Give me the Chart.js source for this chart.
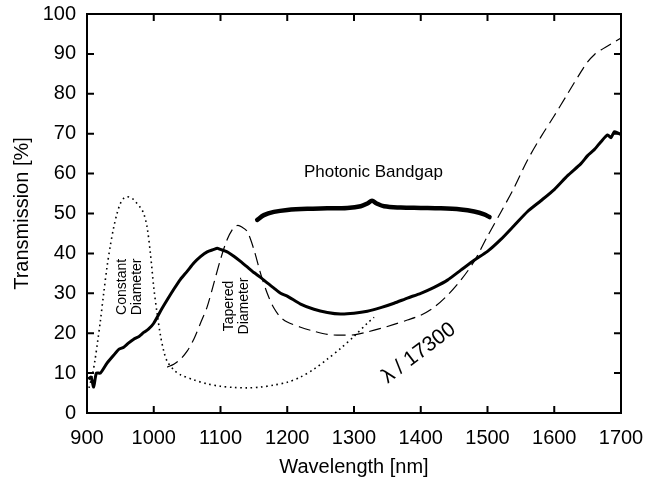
<!DOCTYPE html>
<html lang="en">
<head>
<meta charset="UTF-8">
<title>Transmission vs Wavelength</title>
<style>
  body { margin: 0; background: #ffffff; }
  canvas { display: block; }
</style>
<script src="https://cdn.jsdelivr.net/npm/chart.js"></script>
</head>
<body>
<canvas id="chart" width="646" height="485"></canvas>
<script>
// wavelength [nm] / transmission [%]
const solidWl = [902, 906, 910, 914, 920, 930, 940, 948, 955, 962, 970, 978, 985, 992, 1000, 1010, 1020, 1030, 1040, 1050, 1060, 1070, 1080, 1090, 1095, 1100, 1110, 1120, 1130, 1140, 1150, 1160, 1170, 1180, 1190, 1200, 1220, 1240, 1260, 1280, 1300, 1320, 1340, 1360, 1380, 1400, 1420, 1440, 1460, 1480, 1500, 1520, 1540, 1560, 1580, 1600, 1620, 1640, 1650, 1660, 1670, 1680, 1685, 1690, 1695, 1700];
const solidT = [8.5, 9, 6.5, 10, 10, 12.5, 14.5, 16, 16.5, 17.5, 18.5, 19.2, 20.2, 21, 22.5, 25.5, 28.3, 31, 33.5, 35.5, 37.6, 39.2, 40.4, 41, 41.3, 41, 40.4, 39.3, 38, 36.6, 35.2, 34, 32.6, 31.3, 30, 29.3, 27.3, 26, 25.2, 24.8, 25, 25.5, 26.4, 27.5, 28.8, 30, 31.5, 33.3, 35.8, 38.3, 40.5, 43.5, 47, 50.5, 53.2, 56, 59.5, 62.5, 64.5, 66, 68, 69.7, 69, 70.5, 70.2, 69.8];

const taperWl = [1020, 1030, 1040, 1050, 1060, 1070, 1080, 1090, 1100, 1110, 1120, 1126, 1132, 1140, 1150, 1160, 1170, 1180, 1190, 1200, 1220, 1240, 1260, 1280, 1300, 1320, 1340, 1360, 1380, 1400, 1420, 1440, 1460, 1480, 1500, 1520, 1540, 1560, 1580, 1600, 1620, 1640, 1650, 1660, 1670, 1680, 1690, 1700];
const taperT = [11.5, 12.2, 13.5, 15.5, 18.5, 22.5, 26.6, 32.5, 38.5, 43.5, 46.5, 47, 46.6, 45.5, 41, 35, 30, 26.3, 24, 22.8, 21.5, 20.5, 19.7, 19.5, 19.6, 20.3, 21.2, 22.2, 23.3, 24.5, 26.5, 29.5, 33.3, 38, 44.3, 50.3, 56.5, 63.4, 69.2, 74.5, 80, 85.5, 88, 89.8, 91, 92, 93, 94];

const constWl = [903, 908, 912, 916, 920, 925, 930, 935, 940, 945, 950, 955, 960, 965, 970, 975, 980, 985, 990, 995, 1000, 1005, 1010, 1015, 1020, 1030, 1040, 1060, 1080, 1100, 1120, 1140, 1160, 1180, 1200, 1220, 1240, 1260, 1280, 1300, 1320, 1330];
const constT = [6.3, 9.5, 13.3, 18, 23, 30, 36.6, 42, 46.5, 50, 52.5, 53.8, 54.2, 54, 53.5, 52.5, 51.5, 50, 46.6, 40, 31.5, 25, 19.5, 15.5, 13, 10.8, 9.6, 8.3, 7.3, 6.7, 6.4, 6.3, 6.5, 7, 7.7, 9, 11, 13.5, 16.2, 19.2, 22.5, 24];

// the "Photonic Bandgap" brace
const braceWl = [1155, 1165, 1180, 1200, 1230, 1260, 1290, 1310, 1320, 1327, 1334, 1345, 1370, 1400, 1430, 1460, 1480, 1495, 1503];
const braceT = [48.4, 49.6, 50.4, 50.9, 51.2, 51.3, 51.4, 51.8, 52.5, 53.2, 52.5, 51.8, 51.5, 51.4, 51.3, 51, 50.5, 49.8, 49.1];

const xTicks = [900, 1000, 1100, 1200, 1300, 1400, 1500, 1600, 1700];
const yTicks = [0, 10, 20, 30, 40, 50, 60, 70, 80, 90, 100];

const FONT = "'Liberation Sans', Arial, Helvetica, sans-serif";

function pts(xs, ys) {
  return xs.map((x, i) => ({ x: x, y: ys[i] }));
}

// frame with inward tick marks on all four sides
const frameTicks = {
  id: 'frameTicks',
  afterDatasetsDraw(chart) {
    const ctx = chart.ctx;
    const a = chart.chartArea;
    const xs = chart.scales.x, ys = chart.scales.y;
    ctx.save();
    ctx.strokeStyle = '#000';
    ctx.lineWidth = 2;
    ctx.strokeRect(a.left, a.top, a.right - a.left, a.bottom - a.top);
    ctx.beginPath();
    xTicks.forEach(v => {
      const px = xs.getPixelForValue(v);
      ctx.moveTo(px, a.bottom); ctx.lineTo(px, a.bottom - 7);
      ctx.moveTo(px, a.top); ctx.lineTo(px, a.top + 7);
    });
    yTicks.forEach(v => {
      const py = ys.getPixelForValue(v);
      ctx.moveTo(a.left, py); ctx.lineTo(a.left + 7, py);
      ctx.moveTo(a.right, py); ctx.lineTo(a.right - 7, py);
    });
    ctx.stroke();
    ctx.restore();
  }
};

// text notes placed in data coordinates
const notes = {
  id: 'notes',
  afterDatasetsDraw(chart) {
    const ctx = chart.ctx;
    const xs = chart.scales.x, ys = chart.scales.y;
    function text(lines, x, y, size, angle) {
      ctx.save();
      ctx.translate(xs.getPixelForValue(x), ys.getPixelForValue(y));
      ctx.rotate(angle * Math.PI / 180);
      ctx.font = size + 'px ' + FONT;
      ctx.fillStyle = '#000';
      ctx.textAlign = 'center';
      ctx.textBaseline = 'middle';
      const lh = size * 1.05;
      lines.forEach((l, i) => {
        ctx.fillText(l, 0, (i - (lines.length - 1) / 2) * lh);
      });
      ctx.restore();
    }
    text(['Photonic Bandgap'], 1329, 60.4, 17, 0);
    text(['Constant', 'Diameter'], 964, 31.6, 14, -90);
    text(['Tapered', 'Diameter'], 1124.5, 26.8, 14, -90);
    text(['\u03bb / 17300'], 1397, 15, 21, -37);
  }
};

new Chart(document.getElementById('chart'), {
  type: 'line',
  data: {
    datasets: [
      {
        label: 'Photonic crystal fibre',
        data: pts(solidWl, solidT),
        borderColor: '#000',
        borderWidth: 3,
        pointRadius: 0,
        tension: 0.2
      },
      {
        label: 'Tapered diameter',
        data: pts(taperWl, taperT),
        borderColor: '#000',
        borderWidth: 1.2,
        borderDash: [12, 6],
        pointRadius: 0,
        tension: 0.3
      },
      {
        label: 'Constant diameter',
        data: pts(constWl, constT),
        borderColor: '#000',
        borderWidth: 1.6,
        borderDash: [1.6, 3.6],
        pointRadius: 0,
        tension: 0.3
      },
      {
        label: 'Bandgap',
        data: pts(braceWl, braceT),
        borderColor: '#000',
        borderWidth: 4.5,
        borderCapStyle: 'round',
        pointRadius: 0,
        tension: 0.35
      }
    ]
  },
  options: {
    responsive: false,
    animation: false,
    layout: { padding: { left: 0, right: 25, top: 14, bottom: 0 } },
    plugins: {
      legend: { display: false },
      tooltip: { enabled: false }
    },
    scales: {
      x: {
        type: 'linear',
        min: 900,
        max: 1700,
        afterFit: s => { s.height = 72; s.paddingLeft = 0; s.paddingRight = 0; },
        afterBuildTicks: s => { s.ticks = xTicks.map(v => ({ value: v })); },
        grid: { display: false, drawTicks: false },
        border: { display: false },
        ticks: { color: '#000', font: { family: FONT, size: 20 }, padding: 13, maxRotation: 0, callback: v => String(v) },
        title: {
          display: true,
          text: 'Wavelength [nm]',
          color: '#000',
          font: { family: FONT, size: 20 },
          padding: { top: 0, bottom: 6 }
        }
      },
      y: {
        min: 0,
        max: 100,
        afterFit: s => { s.width = 87; s.paddingTop = 0; s.paddingBottom = 0; },
        afterBuildTicks: s => { s.ticks = yTicks.map(v => ({ value: v })); },
        grid: { display: false, drawTicks: false },
        border: { display: false },
        ticks: { color: '#000', font: { family: FONT, size: 20 }, padding: 11, callback: v => String(v) },
        title: {
          display: true,
          text: 'Transmission [%]',
          color: '#000',
          font: { family: FONT, size: 20 },
          padding: { top: 10, bottom: 0 }
        }
      }
    }
  },
  plugins: [frameTicks, notes]
});
</script>
</body>
</html>
